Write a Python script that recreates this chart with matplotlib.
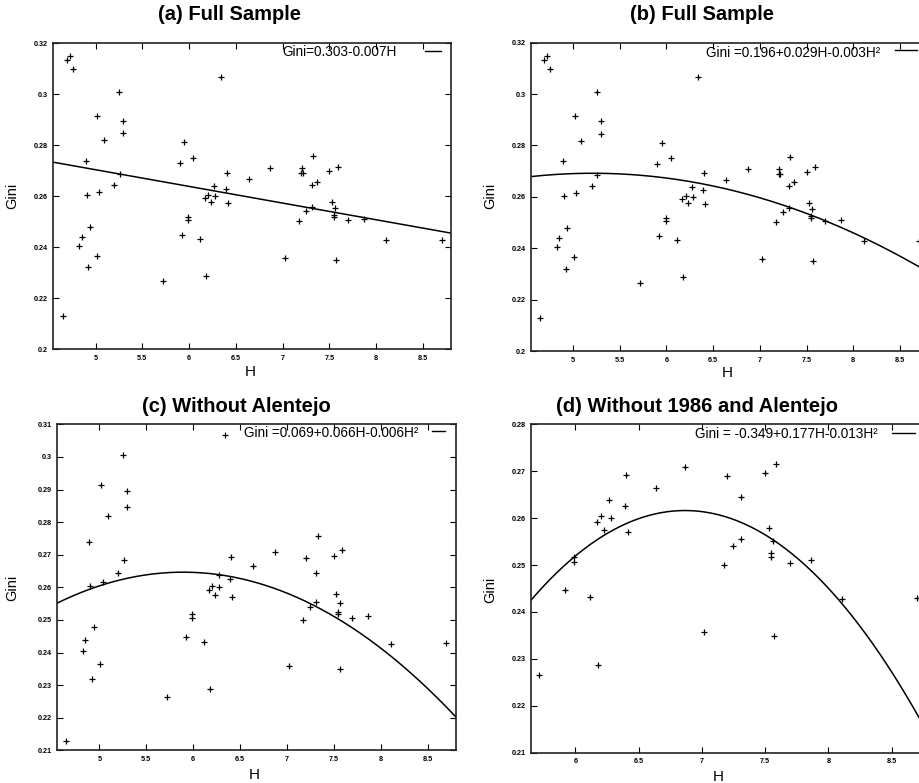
import numpy as np
import matplotlib
matplotlib.use("Agg")
import matplotlib.pyplot as plt
from matplotlib.lines import Line2D

plt.rcParams['font.family'] = ['Liberation Sans', 'DejaVu Sans']

# ---- data (H, Gini) ----
H = [4.647, 4.69, 4.725, 4.757, 4.825, 4.85, 4.893, 4.903, 4.92, 4.94,
     5.01, 5.02, 5.035, 5.09, 5.20, 5.253, 5.26, 5.295, 5.295, 5.717,
     5.90, 5.92, 5.95, 5.99, 5.99, 6.045, 6.117, 6.17, 6.18, 6.205,
     6.23, 6.27, 6.28, 6.34, 6.39, 6.40, 6.413, 6.64, 6.87, 7.02,
     7.173, 7.20, 7.21, 7.22, 7.248, 7.31, 7.313, 7.327, 7.37, 7.50,
     7.527, 7.545, 7.545, 7.562, 7.57, 7.587, 7.698, 7.865, 8.11, 8.70]
G = [0.2129, 0.3133, 0.3149, 0.3097, 0.2404, 0.2438, 0.2738, 0.2604, 0.2320, 0.2479,
     0.2366, 0.2914, 0.2615, 0.2818, 0.2643, 0.3007, 0.2685, 0.2894, 0.2846, 0.2265,
     0.2729, 0.2447, 0.2810, 0.2517, 0.2506, 0.2750, 0.2431, 0.2591, 0.2287, 0.2604,
     0.2575, 0.2639, 0.2600, 0.3066, 0.2626, 0.2692, 0.2571, 0.2665, 0.2709, 0.2358,
     0.2501, 0.2689, 0.2709, 0.2689, 0.2541, 0.2644, 0.2556, 0.2756, 0.2656, 0.2697,
     0.2578, 0.2525, 0.2518, 0.2552, 0.2349, 0.2715, 0.2505, 0.2511, 0.2427, 0.2429]
# observations belonging to Alentejo (absent from panels c and d)
alentejo = [0, 1, 1, 1, 0, 0, 0, 0, 0, 0,
            0, 0, 0, 0, 0, 0, 0, 0, 0, 0,
            1, 0, 1, 0, 0, 1, 0, 0, 0, 0,
            0, 0, 0, 0, 0, 0, 0, 0, 0, 0,
            0, 0, 1, 1, 0, 0, 0, 0, 1, 0,
            0, 0, 0, 0, 0, 0, 0, 0, 0, 0]
# observations from 1986 (absent from panel d)
year1986 = [1, 1, 1, 1, 1, 1, 1, 1, 1, 1,
            1, 1, 1, 1, 1, 1, 1, 1, 1, 0,
            0, 0, 0, 0, 0, 0, 0, 0, 0, 0,
            0, 0, 0, 0, 0, 0, 0, 0, 0, 0,
            0, 0, 0, 0, 0, 0, 0, 1, 0, 0,
            0, 0, 0, 0, 0, 0, 0, 0, 0, 0]

titles = ["(a) Full Sample", "(b) Full Sample",
          "(c) Without Alentejo", "(d) Without 1986 and Alentejo"]
keys = ["Gini=0.303-0.007H", "Gini =0.196+0.029H-0.003H\u00b2",
        "Gini =0.069+0.066H-0.006H\u00b2", "Gini = -0.349+0.177H-0.013H\u00b2"]
# fitted curve coefficients (constant, H, H^2) as drawn
fits = [[0.303, -0.00654, 0.0],
        [0.1883, 0.03105, -0.00298],
        [0.0823, 0.06188, -0.00525],
        [-0.3467, 0.17717, -0.0129]]
xlims = [(4.55, 8.8), (4.55, 8.8), (4.55, 8.8), (5.65, 8.8)]
ylims = [(0.20, 0.32), (0.20, 0.32), (0.21, 0.31), (0.21, 0.28)]
yticks = [[0.2, 0.22, 0.24, 0.26, 0.28, 0.3, 0.32],
          [0.2, 0.22, 0.24, 0.26, 0.28, 0.3, 0.32],
          [0.21, 0.22, 0.23, 0.24, 0.25, 0.26, 0.27, 0.28, 0.29, 0.3, 0.31],
          [0.21, 0.22, 0.23, 0.24, 0.25, 0.26, 0.27, 0.28]]
xticks = [[5, 5.5, 6, 6.5, 7, 7.5, 8, 8.5]] * 3 + [[6, 6.5, 7, 7.5, 8, 8.5]]

# ---- layout (pixels) ----
W, Hpx = 920, 783
fig = plt.figure(figsize=(W / 100, Hpx / 100), dpi=100)

def fx(x):
    return x / W

def fy(y):
    return 1 - y / Hpx

boxes = [(53.5, 451, 43, 349), (531, 928, 42.7, 351),
         (57.3, 455.7, 424.3, 750.3), (531, 929.6, 424.3, 752.7)]
title_pos = [(230, 15), (702, 15), (236, 407), (697, 407)]
ylab_pos = [(12, 196), (490, 196), (12, 588), (490, 590)]
xlab_pos = [(250, 372), (727, 373), (254, 775), (718, 777)]
key_pos = [(397, 52, 425, 441, 50.7), (880, 53, 895, 917, 50.3),
           (418, 433, 432, 445, 431.3), (878, 434, 892, 915, 432.7)]

Ha = np.array(H)
Ga = np.array(G)
alen = np.array(alentejo) == 1
y86 = np.array(year1986) == 1
masks = [np.ones(len(H), bool), np.ones(len(H), bool), ~alen, ~alen & ~y86]

for i in range(4):
    l, r, t, b = boxes[i]
    ax = fig.add_axes([fx(l), fy(b), (r - l) / W, (b - t) / Hpx])
    xs, ys = Ha[masks[i]], Ga[masks[i]]
    ax.plot(xs, ys, linestyle='none', marker='+', color='black',
            markersize=5, markeredgewidth=0.9)
    xx = np.linspace(xlims[i][0], xlims[i][1], 300)
    c0, c1, c2 = fits[i]
    ax.plot(xx, c0 + c1 * xx + c2 * xx ** 2, color='black', linewidth=1.1)
    ax.set_xlim(*xlims[i])
    ax.set_ylim(*ylims[i])
    ax.set_xticks(xticks[i])
    ax.set_yticks(yticks[i])
    ax.set_xticklabels(['%g' % v for v in xticks[i]])
    ax.set_yticklabels(['%g' % v for v in yticks[i]])
    ax.tick_params(direction='in', length=4, width=0.8, top=True, right=True,
                   labelsize=5.2, pad=4)
    for lab in ax.get_xticklabels() + ax.get_yticklabels():
        lab.set_fontweight('bold')
    for s in ax.spines.values():
        s.set_linewidth(1.2)
        s.set_color('#222222')

    fig.text(fx(title_pos[i][0]), fy(title_pos[i][1]), titles[i],
             ha='center', va='center', fontsize=14.5, fontweight='bold')
    fig.text(fx(ylab_pos[i][0]), fy(ylab_pos[i][1]), "Gini", rotation=90,
             ha='center', va='center', fontsize=10.5)
    fig.text(fx(xlab_pos[i][0]), fy(xlab_pos[i][1]), "H",
             ha='center', va='center', fontsize=11)
    tx, ty, lx0, lx1, ly = key_pos[i]
    fig.text(fx(tx), fy(ty), keys[i], ha='right', va='center', fontsize=9.8)
    fig.add_artist(Line2D([fx(lx0), fx(lx1)], [fy(ly), fy(ly)],
                          color='black', linewidth=1.0))

fig.savefig("out.png", dpi=100)
